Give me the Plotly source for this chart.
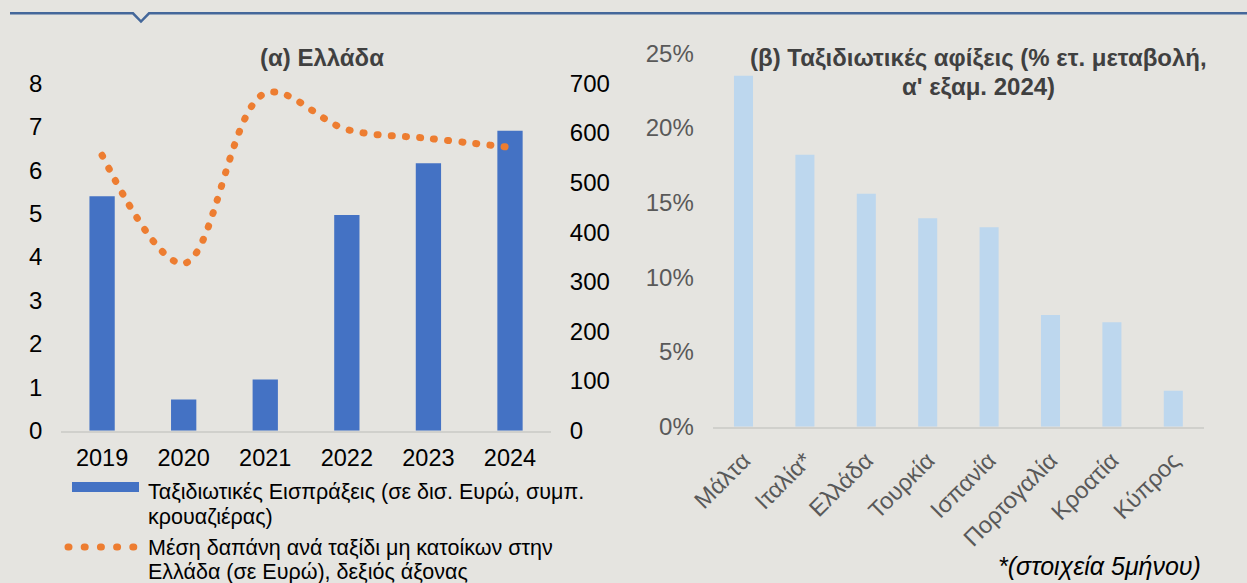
import plotly.graph_objects as go

# ---- data ----
years = ["2019", "2020", "2021", "2022", "2023", "2024"]
receipts = [5.40, 0.72, 1.18, 4.97, 6.16, 6.91]          # bn EUR (left axis)
avg_spend = [555, 337, 680, 607, 589, 571]               # EUR per trip (right axis)

countries = ["Μάλτα", "Ιταλία*", "Ελλάδα", "Τουρκία", "Ισπανία", "Πορτογαλία", "Κροατία", "Κύπρος"]
arrivals = [23.5, 18.2, 15.6, 13.95, 13.35, 7.48, 7.0, 2.4]   # % y/y

W, H = 1247, 583
def px(x):
    return x / W
def py(y):
    return (H - y) / H

BG = "rgb(229,228,224)"
FONT = "Arial, Liberation Sans, sans-serif"

fig = go.Figure()
fig.add_trace(go.Bar(x=years, y=receipts, marker=dict(color="#4472C4", line=dict(width=0)),
                     xaxis="x", yaxis="y", showlegend=False))
fig.add_trace(go.Scatter(x=years, y=avg_spend, mode="lines",
                         line=dict(color="#ED7D31", width=7, dash="1px,13.2px", shape="spline", smoothing=1),
                         xaxis="x", yaxis="y2", showlegend=False))
fig.add_trace(go.Bar(x=countries, y=arrivals, marker=dict(color="#BDD7EE", line=dict(width=0)),
                     xaxis="x2", yaxis="y3", showlegend=False))

axis_common = dict(showgrid=False, zeroline=False, ticks="", automargin=False)

fig.update_layout(
    width=W, height=H, autosize=False,
    margin=dict(l=0, r=0, t=0, b=0, pad=0),
    paper_bgcolor=BG, plot_bgcolor=BG,
    font=dict(family=FONT, color="#000000"),
    bargap=0.69,
    showlegend=False,
    xaxis=dict(domain=[px(61.3), px(550.8)], anchor="y", type="category",
               showline=True, linecolor="#D0D0CC", linewidth=1.5,
               tickfont=dict(size=23.5, color="#000000"), ticklabelstandoff=5, **axis_common),
    yaxis=dict(domain=[py(430.7), py(83.3)], range=[0, 8], dtick=1, anchor="x",
               tickfont=dict(size=24, color="#000000"), ticklabelstandoff=18, **axis_common),
    yaxis2=dict(overlaying="y", side="right", range=[0, 700], dtick=100, anchor="x",
                tickfont=dict(size=24, color="#000000"), ticklabelstandoff=18, **axis_common),
    xaxis2=dict(domain=[px(712.8), px(1204)], anchor="y3", type="category", tickangle=-45,
                showline=True, linecolor="#D0D0CC", linewidth=1.5,
                tickfont=dict(size=23.5, color="#595959"), ticklabelstandoff=9, **axis_common),
    yaxis3=dict(domain=[py(426.7), py(53.3)], range=[0, 25], dtick=5, ticksuffix="%", anchor="x2",
                tickfont=dict(size=24, color="#595959"), ticklabelstandoff=18, **axis_common),
)

def txt(text, x, y, size, color="#000000", xanchor="left"):
    return dict(text=text, x=px(x), y=py(y), xref="paper", yref="paper",
                xanchor=xanchor, yanchor="middle", showarrow=False, align=xanchor if xanchor != "center" else "center",
                font=dict(size=size, color=color, family=FONT))

annotations = [
    txt("<b>(α) Ελλάδα</b>", 322, 57, 24, "#404040", "center"),
    txt("<b>(β) Ταξιδιωτικές αφίξεις (% ετ. μεταβολή,</b>", 978, 58, 24, "#404040", "center"),
    txt("<b>α' εξαμ. 2024)</b>", 978, 86, 24, "#404040", "center"),
    txt("Ταξιδιωτικές Εισπράξεις (σε δισ. Ευρώ, συμπ.", 146, 492, 21.5),
    txt("κρουαζιέρας)", 146, 517, 21.5),
    txt("Μέση δαπάνη ανά ταξίδι μη κατοίκων στην", 146, 548, 21.5),
    txt("Ελλάδα (σε Ευρώ), δεξιός άξονας", 146, 571.5, 21.5),
    txt("<i>*(στοιχεία 5μήνου)</i>", 1203, 566, 25, "#000000", "right"),
]
fig.update_layout(annotations=annotations)

top_path = "M {},{} L {},{} L {},{} L {},{} L {},{}".format(
    px(10), py(13.3), px(133), py(13.3), px(141), py(21.5), px(149), py(13.3), px(1247), py(13.3))

shapes = [
    dict(type="path", path=top_path, xref="paper", yref="paper",
         line=dict(color="#44679A", width=2.5)),
    dict(type="rect", x0=px(72), x1=px(139), y0=py(482), y1=py(492), xref="paper", yref="paper",
         fillcolor="#4472C4", line=dict(width=0)),
    dict(type="line", x0=px(68), x1=px(134), y0=py(547), y1=py(547), xref="paper", yref="paper",
         line=dict(color="#ED7D31", width=7, dash="1px,15.2px")),
]
fig.update_layout(shapes=shapes)

post = (
    "document.body.style.margin='0';document.body.style.overflow='hidden';"
    "document.querySelectorAll('path').forEach(function(p){"
    "var d=p.style.strokeDasharray; if(d && d!=='none'){p.style.strokeLinecap='round';}});"
)
fig.write_html("out.html", config={"displayModeBar": False}, post_script=post)
